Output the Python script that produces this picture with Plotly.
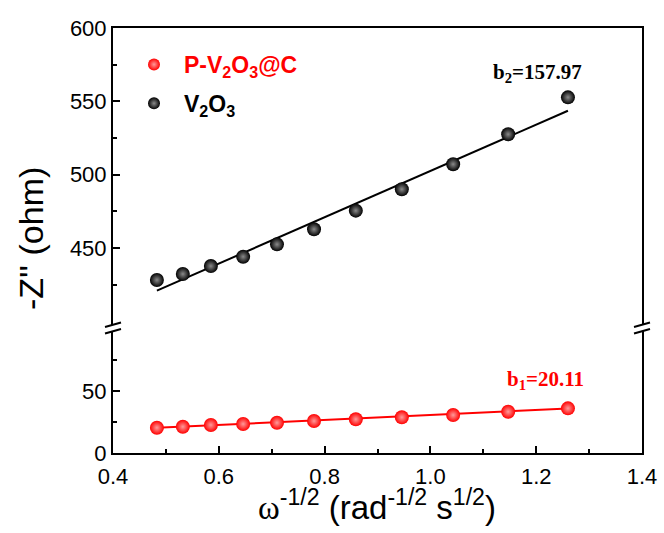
import plotly.graph_objects as go

# ---- data ----
omega_inv_sqrt = [0.483, 0.532, 0.585, 0.646, 0.710, 0.780, 0.859, 0.946, 1.043, 1.147, 1.260]
z_v2o3 = [428.1, 432.2, 437.6, 444.0, 452.4, 462.7, 475.4, 490.0, 507.1, 527.5, 552.7]
z_pv2o3c = [20.4, 21.2, 22.6, 23.4, 24.4, 25.8, 27.2, 28.8, 30.6, 33.3, 36.0]
fit_v2o3 = {"slope": 157.97, "intercept": 344.5}
fit_pv2o3c = {"slope": 20.11, "intercept": 10.6}
x_ticks = [0.4, 0.6, 0.8, 1.0, 1.2, 1.4]
y_low_ticks = [0, 50]
y_low_minor = [25, 75]
y_up_ticks = [450, 500, 550, 600]
y_up_minor = [425, 475, 525, 575]
label_b1 = "b<sub>1</sub>=20.11"
label_b2 = "b<sub>2</sub>=157.97"

RED = "#ff0000"
SANS = "Liberation Sans, Arial, sans-serif"
SERIF = "Liberation Serif, Times New Roman, serif"

x_ends = [min(omega_inv_sqrt), max(omega_inv_sqrt)]
fit_up = [fit_v2o3["intercept"] + fit_v2o3["slope"] * v for v in x_ends]
fit_low = [fit_pv2o3c["intercept"] + fit_pv2o3c["slope"] * v for v in x_ends]

fig = go.Figure()
fig.add_trace(go.Scatter(x=x_ends, y=fit_low, mode="lines", line=dict(color=RED, width=2),
                         showlegend=False, xaxis="x", yaxis="y", hoverinfo="skip"))
fig.add_trace(go.Scatter(x=omega_inv_sqrt, y=z_pv2o3c, mode="markers",
                         name='<b><span style="color:#ff0000">P-V<sub>2</sub>O<sub>3</sub>@C</span></b>',
                         legendgroup="a",
                         marker=dict(color=RED, size=14, gradient=dict(type="radial", color="#ff9a9a")),
                         xaxis="x", yaxis="y"))
fig.add_trace(go.Scatter(x=x_ends, y=fit_up, mode="lines", line=dict(color="black", width=2),
                         showlegend=False, xaxis="x2", yaxis="y2", hoverinfo="skip"))
fig.add_trace(go.Scatter(x=omega_inv_sqrt, y=z_v2o3, mode="markers",
                         name="<b>V<sub>2</sub>O<sub>3</sub></b>",
                         legendgroup="b",
                         marker=dict(color="black", size=14, gradient=dict(type="radial", color="#8a8a8a")),
                         xaxis="x2", yaxis="y2"))

# layout geometry (screen pixels; body margin removed by post_script)
W, H = 664, 533
PL, PT, PR, PB = 113, 28, 642, 453          # plot-area edges
ml, mt, mr, mb = PL, PT, W - PR, H - PB
pw = PR - PL
ph = PB - PT
low_top = (PB - 331) / ph
up_bot = (PB - 325) / ph

axis_common = dict(showline=True, linecolor="black", linewidth=2, showgrid=False, zeroline=False,
                   ticks="inside", ticklen=7, tickwidth=2, tickcolor="black", automargin=False)

fig.update_layout(
    template="none",
    width=W, height=H, autosize=False,
    margin=dict(l=ml, r=mr, t=mt, b=mb, pad=0, autoexpand=False),
    paper_bgcolor="white", plot_bgcolor="white",
    font=dict(family=SANS, color="black"),
    xaxis=dict(**axis_common, range=[0.4, 1.4], tickvals=x_ticks,
               ticktext=[f"{v:.1f}" for v in x_ticks], anchor="y",
               tickfont=dict(size=22, family=SANS), ticklabelstandoff=3,
               minor=dict(ticks="inside", dtick=0.1, tick0=0.4, ticklen=4, tickwidth=2, tickcolor="black")),
    xaxis2=dict(matches="x", range=[0.4, 1.4], anchor="y2", side="top", showline=True,
                linecolor="black", linewidth=2, showgrid=False, zeroline=False, automargin=False,
                ticks="", showticklabels=False),
    yaxis=dict(**axis_common, domain=[0, low_top], range=[0, 98.4], anchor="x", mirror=True,
               tickvals=y_low_ticks, tickfont=dict(size=22, family=SANS),
               minor=dict(ticks="inside", tickvals=y_low_minor, ticklen=4, tickwidth=2, tickcolor="black")),
    yaxis2=dict(**axis_common, domain=[up_bot, 1], range=[397.4, 600], anchor="x2", mirror=True,
                tickvals=y_up_ticks, tickfont=dict(size=22, family=SANS),
                minor=dict(ticks="inside", tickvals=y_up_minor, ticklen=4, tickwidth=2, tickcolor="black")),
    legend=dict(x=(124 - PL) / pw, y=(PB - 43) / ph, xanchor="left", yanchor="top",
                bgcolor="rgba(0,0,0,0)", borderwidth=0, font=dict(size=23, family=SANS), tracegroupgap=6,
                itemsizing="constant", itemwidth=50),
    showlegend=True,
)

def px2paper(px, py):
    return (px - PL) / pw, (PB - py) / ph

# annotations: fit labels and axis titles
fig.add_annotation(x=1.29, y=569, xref="x2", yref="y2", text=f"<b>{label_b2}</b>", showarrow=False,
                   xanchor="right", yanchor="middle", font=dict(family=SERIF, size=21, color="black"))
fig.add_annotation(x=1.295, y=59, xref="x", yref="y", text=f"<b>{label_b1}</b>", showarrow=False,
                   xanchor="right", yanchor="middle", font=dict(family=SERIF, size=21, color=RED))
tx, ty = px2paper(31, 239)
fig.add_annotation(x=tx, y=ty, xref="paper", yref="paper",
                   text="-Z'' (ohm)", textangle=-90, showarrow=False, xanchor="center", yanchor="middle",
                   font=dict(family=SANS, size=34))
tx, ty = px2paper(377, 505)
fig.add_annotation(x=tx, y=ty, xref="paper", yref="paper",
                   text='<span style="font-family:Liberation Serif">ω</span><sup>-1/2</sup> (rad<sup>-1/2</sup> s<sup>1/2</sup>)',
                   showarrow=False, xanchor="center", yanchor="middle", font=dict(family=SANS, size=33))

# axis-break marks (left and right)
for x0 in (PL, PR):
    for dy in (0, 6.5):
        xa, ya = px2paper(x0 - 8, 327 + dy)
        xb, yb = px2paper(x0 + 8, 322.5 + dy)
        fig.add_shape(type="line", xref="paper", yref="paper", x0=xa, y0=ya, x1=xb, y1=yb,
                      line=dict(color="black", width=2))

fig.write_html("out.html", config={"displayModeBar": False},
               post_script="document.body.style.margin='0';document.body.style.overflow='hidden';")
